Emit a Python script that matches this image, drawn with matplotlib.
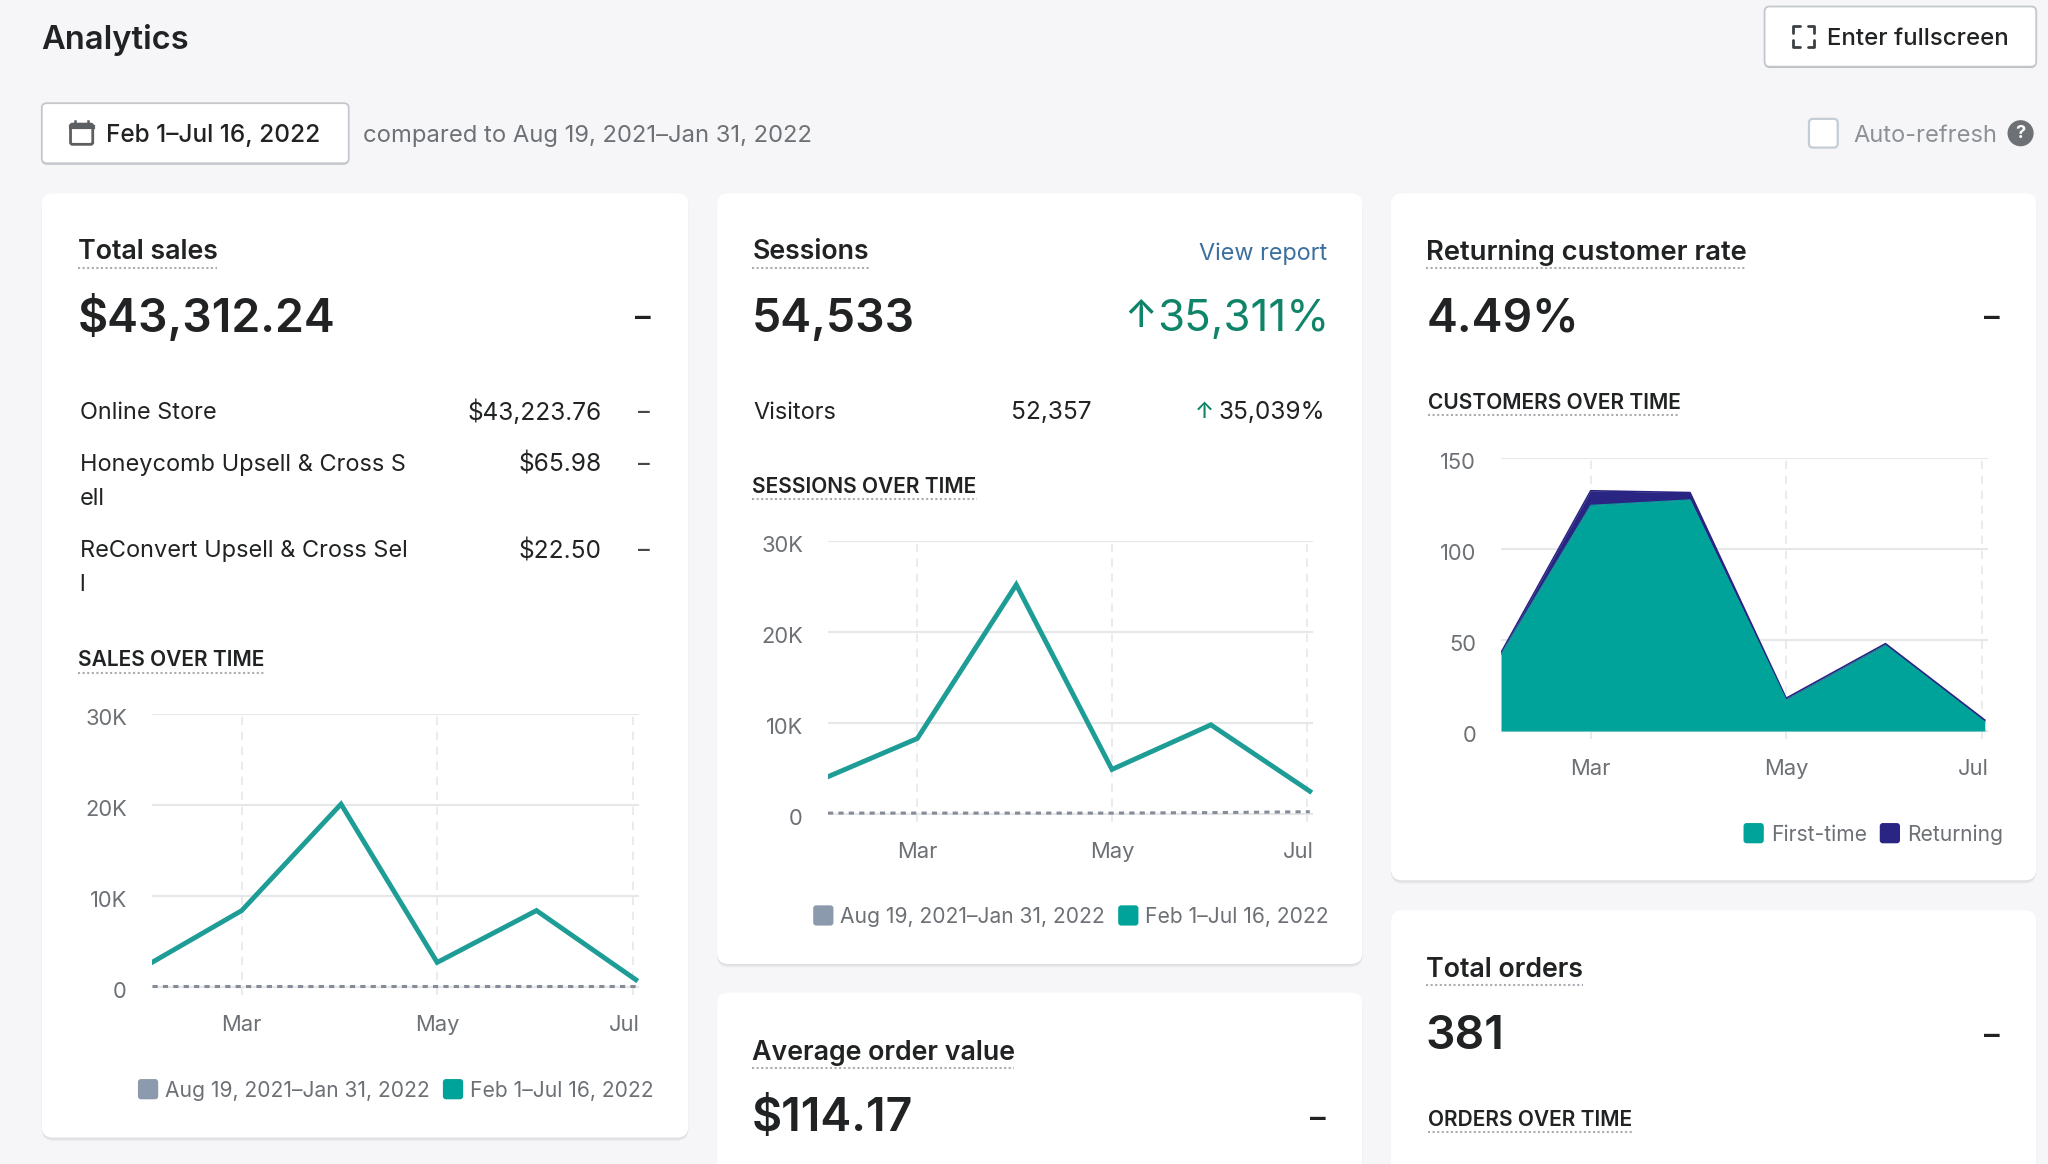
import matplotlib
matplotlib.use("Agg")
import matplotlib.pyplot as plt
from matplotlib.patches import FancyBboxPatch, Circle
from matplotlib.legend_handler import HandlerPatch
from matplotlib.transforms import ScaledTranslation
import pandas as pd

plt.rcParams['font.family'] = ['Inter', 'DejaVu Sans']

# ---------- data ----------
dates = ["2022-02-01", "2022-03-01", "2022-04-01", "2022-05-01", "2022-06-01", "2022-07-02"]
sales_current = [2700, 8400, 20100, 2700, 8400, 800]
sales_previous = [100, 100, 100, 100, 100, 100]
sessions_current = [4100, 8300, 25200, 4900, 9800, 2500]
sessions_previous = [100, 100, 100, 100, 150, 250]
first_time = [42, 124, 127, 17, 47, 5]
returning = [1, 8, 4, 1, 1, 1]
money_ticks = [0, 10000, 20000, 30000]
money_tick_labels = ["0", "10K", "20K", "30K"]
customer_ticks = [0, 50, 100, 150]
customer_tick_labels = ["0", "50", "100", "150"]
month_ticks = ["2022-03-01", "2022-05-01", "2022-07-01"]
month_labels = ["Mar", "May", "Jul"]
period_previous = "Aug 19, 2021–Jan 31, 2022"
period_current = "Feb 1–Jul 16, 2022"

# ---------- colours ----------
BG = "#f6f6f8"
INK = "#202223"
SUB = "#6d7175"
LINE = "#1d9d95"
TEAL = "#00a39a"
NAVY = "#2a2583"
GREY = "#8c9aad"
GRID = "#e6e7e9"
GREEN = "#0f8468"

W, H = 2048, 1164
S = W / 1568
NUM = 18.7
fig = plt.figure(figsize=(W / 100, H / 100), dpi=100, facecolor=BG)
bg = fig.add_axes([0, 0, 1, 1])
bg.set_xlim(0, W)
bg.set_ylim(H, 0)
bg.axis("off")


def px(size):
    return size * S * 72 / 100


def T(x, y, s, size=18.0, color=INK, ha="left", weight="normal"):
    bg.text(x * S, y * S, s, fontsize=px(size), color=color, ha=ha, va="center_baseline", fontweight=weight)


def box(x0, y0, x1, y1, r=8, fc="white", ec="none", lw=0, z=1):
    p = FancyBboxPatch((x0 * S + r, y0 * S + r), (x1 - x0) * S - 2 * r, (y1 - y0) * S - 2 * r,
                       boxstyle=f"round,pad={r},rounding_size={r}", fc=fc, ec=ec, lw=lw, zorder=z)
    bg.add_patch(p)


def card(x0, y0, x1, y1):
    box(x0, y0 + 2, x1, y1 + 2.5, r=12, fc="#e9eaec", z=1)
    box(x0, y0 + 1, x1, y1 + 1.2, r=11, fc="#dcdee0", z=1)
    box(x0, y0, x1, y1, r=11, fc="white", z=2)


def button(x0, y0, x1, y1):
    box(x0, y0 + 1, x1, y1 + 1, r=5, fc="#aeb4b9", z=2)
    box(x0, y0, x1, y1, r=5, fc="white", ec="#c4c8cc", lw=1.3, z=2)


def under(x0, x1, y):
    bg.plot([x0 * S, x1 * S], [y * S, y * S], color="#a9adb2", lw=1.5, ls=(0, (1, 1.2)), zorder=4)


def heading(x, y, s, x1, size=20.5):
    T(x, y, s, size=size, weight="semibold")
    under(x, x1, y + 14)


def caps(x, y, s, x1):
    T(x, y, s, size=16.05, weight="semibold")
    under(x, x1, y + 11)


# page cards
card(32, 148, 527, 871)
card(549, 148, 1043, 738)
card(549, 760, 1043, 930)
card(1065, 148, 1559, 674)
card(1065, 697, 1559, 930)

# header
T(31.5, 28, "Analytics", size=25, weight="semibold")
button(1351, 5, 1559, 51)
T(1399, 28, "Enter fullscreen", size=18.4, weight="medium")
for cx, cy, dx, dy in [(1373, 20, 1, 1), (1389, 20, -1, 1), (1373, 36, 1, -1), (1389, 36, -1, -1)]:
    bg.plot([(cx + dx * 5) * S, cx * S, cx * S], [cy * S, cy * S, (cy + dy * 5) * S],
            color="#3c4043", lw=2, zorder=4, solid_capstyle="round")
button(32, 79, 267, 125)
box(54, 95, 71, 110.5, r=2, fc="white", ec="#5c5f62", lw=2, z=3)
bg.plot([54 * S, 71 * S], [97.5 * S, 97.5 * S], color="#5c5f62", lw=3, zorder=4)
for tab_x in (57.5, 67.5):
    bg.plot([tab_x * S, tab_x * S], [92.5 * S, 96 * S], color="#5c5f62", lw=1.8, zorder=4)
T(81, 102, period_current, size=18.7, weight="medium")
T(278, 102, "compared to " + period_previous, size=18.2, color=SUB)
box(1385, 91, 1407, 113, r=4, fc="white", ec="#c4cdd5", lw=1.6, z=2)
T(1419, 102, "Auto-refresh", size=18.1, color="#8c9196")
bg.add_patch(Circle((1547 * S, 102 * S), 10 * S, fc="#6d7175", ec="none", zorder=3))
bg.text(1547 * S, 102 * S, "?", fontsize=px(14), color="white", ha="center", va="center", weight="bold", zorder=4)

# card 1
heading(60, 191, "Total sales", 166)
T(59.5, 239.5, "$43,312.24", size=35.5, weight="semibold")
T(498, 242, "–", size=24, ha="right", weight="semibold")
for y, label, value in [(314, "Online Store", "$43,223.76"), (354, "Honeycomb Upsell & Cross S", "$65.98"),
                        (420, "ReConvert Upsell & Cross Sel", "$22.50")]:
    T(61, y, label)
    T(460.5, y, value, size=NUM, ha="right")
    T(497.5, y, "–", ha="right", color="#45484b", weight="medium")
T(61, 380, "ell")
T(61, 446, "l")
caps(60, 504, "SALES OVER TIME", 202)

# card 2
heading(576, 191, "Sessions", 665)
T(1016.5, 192, "View report", size=17.9, color="#3a6f9f", ha="right")
T(575.5, 241, "54,533", size=35.5, weight="semibold")
T(886, 240, "↑", size=29, color=GREEN, ha="right", weight="medium")
T(1017.5, 241, "35,311%", size=33.6, color=GREEN, ha="right", weight="normal")
T(577, 314, "Visitors")
T(835.5, 314, "52,357", size=NUM, ha="right")
T(929, 314, "↑", size=17, color=GREEN, ha="right", weight="medium")
T(1014.5, 314, "35,039%", size=NUM, ha="right")
caps(576, 371, "SESSIONS OVER TIME", 748)
heading(576, 804, "Average order value", 776)
T(575.5, 853, "$114.17", size=35.5, weight="semibold")
T(1015, 855, "–", size=24, ha="right", weight="semibold")

# card 3
heading(1092, 191, "Returning customer rate", 1337, size=20.95)
T(1092, 241, "4.49%", size=35.5, weight="semibold")
T(1531, 242, "–", size=24, ha="right", weight="semibold")
caps(1093, 307, "CUSTOMERS OVER TIME", 1286)
heading(1092, 740, "Total orders", 1212)
T(1091.5, 790, "381", size=35.5, weight="semibold")
T(1531, 792, "–", size=24, ha="right", weight="semibold")
caps(1093, 856, "ORDERS OVER TIME", 1250)

# ---------- charts ----------
xd = pd.to_datetime(dates)
xt = pd.to_datetime(month_ticks)
xl = (pd.Timestamp("2022-02-01"), pd.Timestamp("2022-07-03"))
LEG_FS = px(16.1)
SIDE = px(15.5)


class RoundHandler(HandlerPatch):
    def create_artists(self, legend, orig, xd_, yd, width, height, fontsize, trans):
        r = 2.2
        p = FancyBboxPatch((r, height / 2 - SIDE / 2 + r - 1.2), SIDE - 2 * r, SIDE - 2 * r,
                           boxstyle=f"round,pad={r},rounding_size={r}", fc=orig.get_facecolor(), ec="none",
                           transform=trans)
        return [p]


def chart(left, right, top, zero, ymax, ticks, labels):
    bottom = zero + 8
    ax = fig.add_axes([left / W, 1 - bottom / H, (right - left) / W, (bottom - top) / H], facecolor="none")
    ax.set_zorder(5)
    ax.set_xlim(*xl)
    ax.set_ylim(-8 / (zero - top) * ymax, ymax)
    for s in ax.spines.values():
        s.set_visible(False)
    ax.set_yticks(ticks, labels)
    ax.set_xticks(xt, month_labels)
    ax.tick_params(axis="y", length=0, pad=18, labelsize=px(16.8), labelcolor=SUB)
    ax.tick_params(axis="x", length=0, pad=14.2, labelsize=px(16.8), labelcolor=SUB)
    for lab in ax.get_yticklabels():
        lab.set_transform(lab.get_transform() + ScaledTranslation(0, -2.6 / 100, fig.dpi_scale_trans))
    jul = ax.get_xticklabels()[-1]
    jul.set_ha("right")
    jul.set_transform(jul.get_transform() + ScaledTranslation(7.5 / 100, 0, fig.dpi_scale_trans))
    ax.grid(axis="y", color=GRID, lw=1.5, zorder=0)
    ax.grid(axis="x", color=GRID, lw=1.2, ls=(0, (5, 4)), zorder=0)
    ax.set_axisbelow(True)
    return ax


def legend(handles, labels, right, y):
    leg = fig.legend(handles, labels, loc="center right", bbox_to_anchor=(right * S / W, 1 - y * S / H),
                     frameon=False, ncols=2, fontsize=LEG_FS, labelcolor=SUB, handlelength=SIDE / LEG_FS,
                     handleheight=1, handletextpad=0.33, columnspacing=0.62, borderpad=0, borderaxespad=0,
                     handler_map={plt.Rectangle: RoundHandler()})
    leg.set_zorder(6)


def line_chart(left, right, top, zero, cur, prev, lx, ly):
    ax = chart(left, right, top, zero, 30000, money_ticks, money_tick_labels)
    ax.plot(xd, prev, color="#868c97", lw=2.2, ls=(0, (1.7, 1.7)), zorder=3)
    ax.plot(xd, cur, color=LINE, lw=3.5, zorder=4, solid_joinstyle="miter")
    h = [plt.Rectangle((0, 0), 1, 1, fc=GREY), plt.Rectangle((0, 0), 1, 1, fc=TEAL)]
    legend(h, [period_previous, period_current], lx, ly)


line_chart(152, 639, 714, 987, sales_current, sales_previous, 500.5, 835)
line_chart(828, 1313, 541, 814, sessions_current, sessions_previous, 1017.5, 702)

ax3 = chart(1501, 1988, 458, 731, 150, customer_ticks, customer_tick_labels)
total = [a + b for a, b in zip(first_time, returning)]
ax3.fill_between(xd, 0, first_time, color=TEAL, lw=0, zorder=3)
ax3.fill_between(xd, first_time, total, color=NAVY, lw=0, zorder=3)
ax3.plot(xd, total, color=NAVY, lw=1.2, zorder=3)
ax3.plot(xd, first_time, color=TEAL, lw=0.8, zorder=4)
legend([plt.Rectangle((0, 0), 1, 1, fc=TEAL), plt.Rectangle((0, 0), 1, 1, fc=NAVY)],
       ["First-time", "Returning"], 1533.5, 639)

fig.savefig("out.png", dpi=100, facecolor=BG)
